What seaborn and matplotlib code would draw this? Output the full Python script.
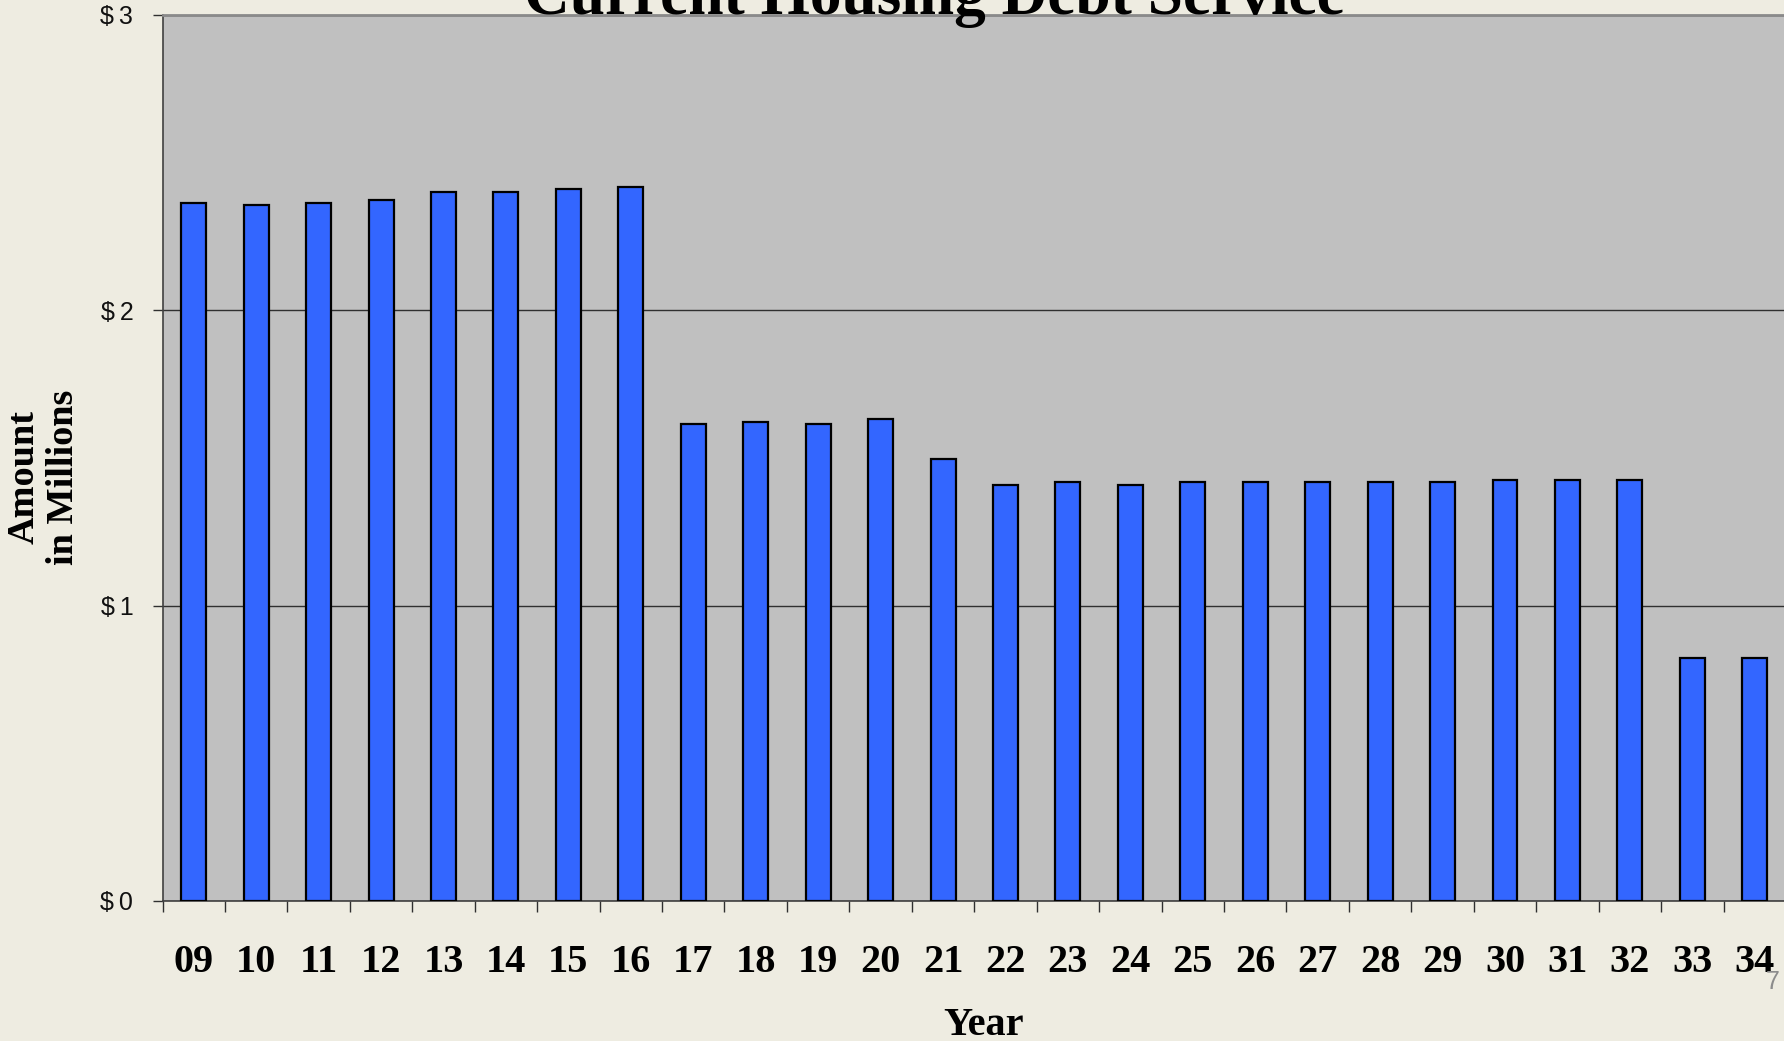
import matplotlib
matplotlib.use("Agg")
import matplotlib.pyplot as plt
import seaborn as sns
import pandas as pd
from matplotlib.ticker import FixedLocator

# ---- data ----
years = ["09", "10", "11", "12", "13", "14", "15", "16", "17", "18", "19", "20", "21",
         "22", "23", "24", "25", "26", "27", "28", "29", "30", "31", "32", "33", "34"]
amounts = [2.365, 2.355, 2.365, 2.372, 2.400, 2.400, 2.410, 2.418, 1.615, 1.623, 1.615,
           1.632, 1.495, 1.410, 1.418, 1.410, 1.418, 1.418, 1.418, 1.418, 1.418, 1.425,
           1.425, 1.425, 0.822, 0.822]
y_ticks = [0, 1, 2, 3]
y_tick_labels = ["$\u20090", "$\u20091", "$\u20092", "$\u20093"]
title = "Current Housing Debt Service"
x_label = "Year"
y_label = "Amount\nin Millions"
page_number = "7"

df = pd.DataFrame({"Year": years, "Amount": amounts})

sns.set_theme(style="white")
plt.rcParams["font.family"] = ["Liberation Serif", "DejaVu Serif"]

W, H = 1784, 1041
fig = plt.figure(figsize=(W / 100, H / 100), dpi=100)
fig.patch.set_facecolor("#EEECE1")

left, right, bottom, top = 162.5, 1786, 901, 15
ax = fig.add_axes([left / W, 1 - bottom / H, (right - left) / W, (bottom - top) / H])
ax.set_facecolor("#C0C0C0")

sns.barplot(data=df, x="Year", y="Amount", color="#3366FF", saturation=1,
            edgecolor="black", linewidth=1.6, width=0.4, ax=ax, zorder=3)

ax.set_xlim(-0.5, len(years) - 0.5)
ax.set_ylim(0, 3)

# gridlines
ax.set_yticks(y_ticks)
ax.set_yticklabels(y_tick_labels, family=["Liberation Sans", "DejaVu Sans"], fontsize=18)
ax.yaxis.grid(True, color="#303030", linewidth=1.0, zorder=1)
ax.set_axisbelow(True)
ax.tick_params(axis="y", which="major", direction="out", length=7, width=1.0,
               color="#303030", pad=14, left=True, labelcolor="#111111")

# x: labels at centres, tick marks at category boundaries
ax.set_xticks(range(len(years)))
ax.set_xticklabels(years, fontsize=29, fontweight="bold", color="black")
ax.xaxis.set_minor_locator(FixedLocator([i - 0.5 for i in range(len(years) + 1)]))
ax.tick_params(axis="x", which="major", length=0, pad=31)
ax.tick_params(axis="x", which="minor", direction="out", length=8, width=1.0,
               color="#303030", bottom=True)

ax.set_xlabel("")
ax.set_ylabel("")

for s in ["left", "bottom"]:
    ax.spines[s].set_visible(True)
    ax.spines[s].set_color("#404040")
    ax.spines[s].set_linewidth(1.2)
ax.spines["top"].set_visible(True)
ax.spines["top"].set_color("#8a8a8a")
ax.spines["top"].set_linewidth(2.0)
ax.spines["right"].set_visible(False)

# title (partly cut off at the top as in the reference)
fig.text(934 / W, 1 - 13.5 / H, title, ha="center", va="baseline",
         fontsize=45.6, fontweight="bold", color="black")

# axis labels
fig.text(983 / W, 1 - 1035 / H, x_label, ha="center", va="baseline",
         fontsize=29, fontweight="bold", color="black")
fig.text(44 / W, 1 - 477 / H, y_label, ha="center", va="center", rotation=90,
         multialignment="center", fontsize=27.5, fontweight="bold", color="black",
         linespacing=1.15)

# page number
fig.text(1766 / W, 1 - 989 / H, page_number, ha="left", va="baseline",
         fontsize=18, color="#8c8c8c", family=["Liberation Sans", "DejaVu Sans"])

fig.savefig("out.png", dpi=100, facecolor=fig.get_facecolor())
